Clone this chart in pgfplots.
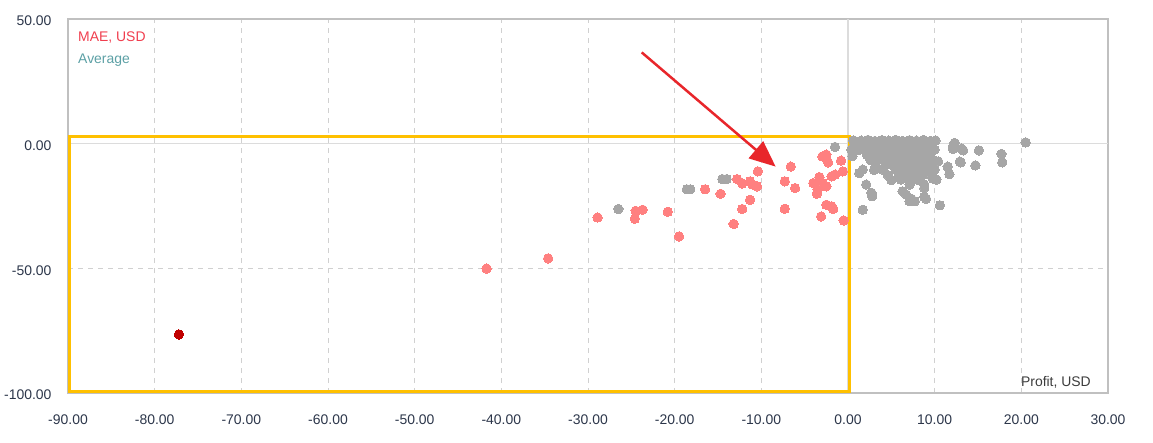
\documentclass[border=0pt]{standalone}
\usepackage{pgfplots}
\pgfplotsset{compat=1.18}
\usepackage{fontspec}
\setmainfont{Liberation Sans}
\usetikzlibrary{arrows.meta}
\definecolor{ticktext}{RGB}{44,54,74}
\definecolor{gridc}{RGB}{208,208,208}
\definecolor{borderc}{RGB}{192,192,192}
\definecolor{zeroc}{RGB}{220,220,220}
\definecolor{greyc}{RGB}{166,166,166}
\definecolor{redc}{RGB}{255,128,128}
\definecolor{darkred}{RGB}{192,0,0}
\definecolor{goldc}{RGB}{255,192,0}
\definecolor{arrowc}{RGB}{232,38,43}
\definecolor{maec}{RGB}{240,62,78}
\definecolor{avgc}{RGB}{92,160,165}
\definecolor{profc}{RGB}{60,60,60}
\begin{document}
\begin{tikzpicture}
\begin{axis}[
  scale only axis,
  width=1040bp, height=374bp,
  xmin=-90, xmax=30, ymin=-100, ymax=50,
  xtick={-90,-80,...,30},
  ytick={-100,-50,0,50},
  major tick length=0pt,
  axis line style={draw=borderc, line width=1.3bp},
  grid=major,
  major grid style={draw=gridc, line width=1bp, dash pattern=on 5bp off 5bp},
  tick label style={font=\fontsize{14}{16}\selectfont, text=ticktext},
  xticklabel style={yshift=-18bp},
  yticklabel style={xshift=-13bp, yshift=-2bp},
  /pgf/number format/.cd, fixed, fixed zerofill, precision=2, assume math mode=true,
  /pgfplots/.cd,
  clip=false,
]
% zero lines
\draw[zeroc, line width=1.3bp] (axis cs:-90,0) -- (axis cs:30,0);
\draw[zeroc, line width=1.3bp] (axis cs:0,-100) -- (axis cs:0,50);

% grey points (profitable trades)
\addplot[only marks, mark=*, mark size=4.7bp, mark options={fill=greyc, draw=greyc, line width=0pt}] table {
x y
-26.5 -26.2
-18.6 -18.3
-18.2 -18.3
-14.5 -14.2
-14.0 -14.2
-1.5 -1.3
1.7 -26.5
2.1 -16.4
2.8 -21.1
2.7 -19.7
1.3 -11.8
1.7 -10.4
0.5 -5.0
0.4 -2.4
20.5 0.5
17.7 -4.1
17.8 -7.5
14.7 -8.7
15.1 -2.7
13.3 -2.7
13.1 -2.0
12.3 0.3
12.1 -1.2
12.1 -2.1
12.9 -7.2
13.0 -7.5
11.5 -9.2
11.7 -12.2
10.6 -24.7
10.2 -14.4
9.8 -14.0
10.0 -10.4
10.4 -7.1
9.0 -22.1
8.8 -21.3
8.8 -17.8
8.8 -16.4
7.1 -23.1
7.7 -23.1
7.3 -22.1
6.3 -19.1
6.7 -20.4
7.1 -16.4
0.6 1.3
1.5 1.2
2.3 1.5
3.1 1.1
3.9 1.4
4.7 1.2
5.5 1.5
6.3 1.1
7.1 1.4
7.9 1.2
8.7 1.5
9.5 1.1
10.1 1.3
0.8 -0.6
1.6 -0.4
2.4 -0.7
3.2 -0.4
4.0 -0.6
4.8 -0.3
5.6 -0.7
6.4 -0.5
7.2 -0.4
8.0 -0.7
8.8 -0.5
9.6 -0.3
1.2 -2.6
2.0 -2.4
2.8 -2.7
3.6 -2.4
4.4 -2.6
5.2 -2.3
6.0 -2.7
6.8 -2.5
7.6 -2.4
8.4 -2.7
9.2 -2.5
10.0 -2.4
2.2 -4.6
3.0 -4.4
3.8 -4.7
4.6 -4.4
5.4 -4.6
6.2 -4.3
7.0 -4.7
7.8 -4.5
8.6 -4.4
9.4 -4.7
2.6 -6.6
3.4 -6.4
4.2 -6.7
5.0 -6.4
5.8 -6.6
6.6 -6.3
7.4 -6.7
8.2 -6.5
9.0 -6.4
9.8 -6.6
3.2 -8.6
4.4 -8.4
5.2 -8.7
6.0 -8.4
6.8 -8.6
7.6 -8.3
8.4 -8.7
9.2 -8.5
3.0 -10.6
4.0 -10.4
5.6 -10.7
6.4 -10.4
7.2 -10.6
8.0 -10.3
9.0 -10.7
4.6 -12.6
5.9 -12.4
6.8 -12.7
7.5 -12.4
8.6 -12.6
9.6 -12.5
5.0 -14.6
6.1 -14.4
7.2 -14.7
8.0 -14.5
};

% red points (losing trades)
\addplot[only marks, mark=*, mark size=4.7bp, mark options={fill=redc, draw=redc, line width=0pt}] table {
x y
-28.9 -29.6
-24.5 -26.9
-23.7 -26.5
-24.6 -30.1
-20.8 -27.3
-19.5 -37.2
-16.5 -18.3
-14.7 -20.1
-12.8 -14.2
-12.2 -16.0
-11.3 -15.1
-11.0 -16.4
-10.5 -17.1
-10.4 -11.1
-11.3 -22.5
-12.2 -26.2
-13.2 -32.2
-7.3 -15.1
-6.6 -9.2
-6.1 -17.8
-7.3 -26.1
-4.0 -15.8
-3.3 -13.4
-3.5 -18.5
-3.6 -20.1
-2.5 -17.1
-2.9 -15.8
-2.95 -5.1
-2.5 -4.4
-2.3 -7.5
-0.8 -6.8
-0.6 -11.1
-1.9 -13.1
-1.5 -12.4
-2.5 -24.5
-1.9 -25.1
-1.7 -26.2
-3.1 -29.2
-0.5 -30.8
-41.7 -50.1
-34.6 -46.0
};

% worst trade
\addplot[only marks, mark=*, mark size=4.7bp, mark options={fill=darkred, draw=darkred, line width=0pt}] table {
x y
-77.2 -76.5
};

% highlight rectangle
\draw[goldc, line width=3bp] (axis cs:-89.8,-99.2) rectangle (axis cs:0.2,2.7);

% arrow
\draw[arrowc, line width=2.5bp, -{Triangle[length=26bp,width=22bp]}] (axis cs:-23.8,36.6) -- (axis cs:-8.35,-9.2);

% texts
\node[anchor=west, text=maec, font=\fontsize{14}{16}\selectfont, inner sep=0pt] at ([shift={(10bp,-19bp)}]rel axis cs:0,1) {MAE, USD};
\node[anchor=west, text=avgc, font=\fontsize{14}{16}\selectfont, inner sep=0pt] at ([shift={(10bp,-41bp)}]rel axis cs:0,1) {Average};
\node[anchor=east, text=profc, font=\fontsize{14}{16}\selectfont, inner sep=0pt] at ([shift={(-17bp,11bp)}]rel axis cs:1,0) {Profit, USD};
\end{axis}
\path ([shift={(-68bp,-49bp)}]current axis.south west) rectangle ([shift={(45bp,19bp)}]current axis.north east);
\end{tikzpicture}
\end{document}
